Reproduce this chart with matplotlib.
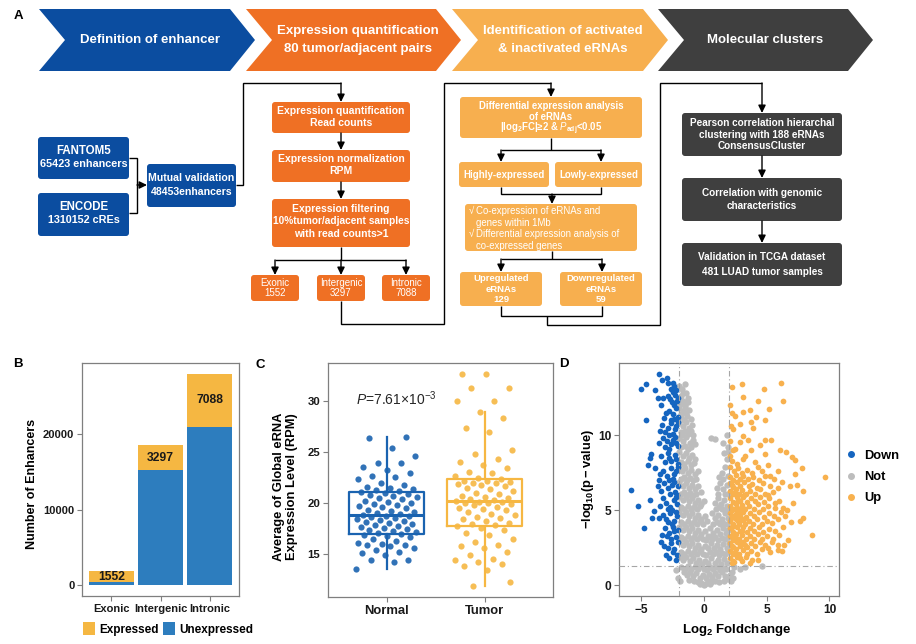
import numpy as np
import matplotlib
matplotlib.use('Agg')
import matplotlib.pyplot as plt
from matplotlib.patches import Polygon, FancyBboxPatch, Patch
from matplotlib.lines import Line2D

plt.rcParams['font.family'] = ['Liberation Sans', 'DejaVu Sans']
plt.rcParams['mathtext.fontset'] = 'custom'
plt.rcParams['mathtext.rm'] = 'Liberation Sans'
plt.rcParams['mathtext.it'] = 'Liberation Sans:italic'
plt.rcParams['mathtext.bf'] = 'Liberation Sans:bold'

# ------------------------------------------------------------------ data
stage_titles = [["Definition of enhancer"],
                ["Expression quantification", "80 tumor/adjacent pairs"],
                ["Identification of activated", "& inactivated eRNAs"],
                ["Molecular clusters"]]

region_cats = ["Exonic", "Intergenic", "Intronic"]
expressed = [1552, 3297, 7088]
unexpressed = [400, 15200, 20900]

groups = ["Normal", "Tumor"]
normal_vals = [13.5, 14.2, 14.4, 14.4, 14.9, 15.1, 15.2, 15.4, 15.6, 15.8,
               15.9, 15.9, 16.0, 16.1, 16.3, 16.5, 16.6, 16.7, 16.8, 16.9,
               17.0, 17.1, 17.2, 17.3, 17.4, 17.5, 17.6, 17.7, 17.8, 17.9,
               18.0, 18.1, 18.2, 18.3, 18.4, 18.5, 18.6, 18.7, 18.75, 18.8,
               18.9, 19.0, 19.1, 19.2, 19.3, 19.5, 19.6, 19.7, 19.8, 19.9,
               20.0, 20.1, 20.2, 20.4, 20.5, 20.6, 20.7, 20.8, 20.9, 21.0,
               21.1, 21.2, 21.3, 21.4, 21.5, 21.6, 21.8, 22.0, 22.3, 22.5,
               22.6, 22.9, 23.2, 23.5, 23.9, 23.9, 24.6, 25.4, 26.4, 26.5]
tumor_vals = [11.8, 12.2, 13.4, 13.8, 14.0, 14.2, 14.4, 14.5, 14.9, 15.2,
              15.6, 15.8, 15.9, 16.2, 16.5, 16.8, 17.0, 17.3, 17.5, 17.7,
              17.8, 17.9, 18.0, 18.2, 18.4, 18.5, 18.6, 18.8, 18.9, 19.1,
              19.3, 19.4, 19.5, 19.6, 19.8, 19.9, 20.0, 20.0, 20.1, 20.1,
              20.2, 20.3, 20.4, 20.5, 20.6, 20.7, 20.9, 21.0, 21.2, 21.4,
              21.5, 21.7, 21.8, 21.9, 22.0, 22.0, 22.1, 22.2, 22.2, 22.3,
              22.4, 22.6, 22.9, 23.0, 23.4, 23.7, 24.0, 24.3, 24.8, 25.2,
              27.0, 27.4, 28.3, 28.9, 30.0, 30.0, 31.3, 31.3, 32.7, 32.7]
p_label = r"$\mathit{P}$=7.61×10$^{-3}$"

down_pts = [
    (-3.59, 14.09), (-2.97, 13.8), (-3.32, 13.7), (-4.6, 13.4), (-5.05, 13.1), (-3.9, 13.0),
    (-2.84, 13.47), (-2.5, 13.5), (-2.35, 13.3), (-2.6, 13.1), (-2.2, 13.0), (-2.45, 12.9),
    (-3.64, 12.5), (-3.24, 12.5), (-2.9, 12.6), (-2.7, 12.4), (-2.3, 12.7), (-2.15, 12.3),
    (-2.55, 12.2), (-3.45, 11.98), (-2.4, 12.0), (-2.05, 12.5),
    (-4.65, 10.98), (-3.19, 11.13), (-2.8, 11.6), (-2.5, 11.4), (-2.25, 11.8), (-2.1, 11.2),
    (-2.65, 11.0), (-3.0, 11.5), (-2.35, 11.1),
    (-3.32, 10.7), (-2.9, 10.5), (-2.6, 10.8), (-2.3, 10.4), (-2.1, 10.9), (-3.1, 10.2),
    (-2.45, 10.1), (-2.75, 10.0), (-2.2, 10.6), (-3.5, 10.3),
    (-3.3, 9.8), (-2.95, 9.6), (-2.6, 9.4), (-2.3, 9.9), (-2.1, 9.3), (-2.8, 9.1),
    (-2.45, 9.7), (-3.1, 9.2), (-2.2, 9.5), (-3.6, 9.5),
    (-4.2, 8.76), (-4.33, 8.47), (-4.44, 8.02), (-3.4, 8.6), (-2.9, 8.8), (-2.6, 8.3),
    (-2.3, 8.7), (-2.1, 8.1), (-3.1, 8.2), (-2.75, 8.5), (-2.2, 8.4),
    (-3.93, 7.8), (-3.59, 6.98), (-3.3, 7.6), (-2.95, 7.3), (-2.65, 7.8), (-2.35, 7.4),
    (-2.1, 7.9), (-2.5, 7.1), (-2.8, 7.0), (-2.2, 7.6), (-3.5, 7.4),
    (-5.79, 6.36), (-3.2, 6.8), (-2.9, 6.5), (-2.55, 6.7), (-2.3, 6.2), (-2.1, 6.6),
    (-2.7, 6.1), (-3.4, 6.3), (-2.4, 6.9), (-2.15, 6.0), (-3.7, 6.6),
    (-4.33, 5.69), (-5.23, 5.24), (-3.3, 5.8), (-3.0, 5.5), (-2.7, 5.2), (-2.4, 5.7),
    (-2.15, 5.4), (-2.55, 5.0), (-2.9, 5.1), (-2.25, 5.9), (-3.5, 5.3),
    (-3.98, 4.91), (-4.12, 4.44), (-3.3, 4.7), (-3.0, 4.4), (-2.7, 4.8), (-2.4, 4.3),
    (-2.15, 4.6), (-2.55, 4.1), (-2.85, 4.2), (-2.25, 4.9), (-3.6, 4.5),
    (-4.78, 3.8), (-3.32, 3.36), (-3.1, 3.8), (-2.8, 3.5), (-2.5, 3.9), (-2.25, 3.2),
    (-2.1, 3.7), (-2.65, 3.1), (-2.95, 3.3), (-2.35, 3.6),
    (-3.05, 2.02), (-2.79, 1.8), (-2.26, 1.69), (-3.2, 2.6), (-2.6, 2.8), (-2.35, 2.4),
    (-2.1, 2.9), (-2.5, 2.2), (-2.9, 2.5), (-2.15, 2.0), (-3.4, 2.9)]

not_pts = [
    (-1.95, 13.3), (-1.75, 13.1), (-1.55, 13.4), (-1.45, 12.8), (-1.85, 12.6), (-1.65, 12.3),
    (-1.3, 12.5), (-1.9, 12.1), (-1.5, 12.0), (-1.25, 12.2), (-1.7, 12.8),
    (-1.95, 11.8), (-1.7, 11.6), (-1.45, 11.5), (-1.2, 11.7), (-1.85, 11.2), (-1.6, 11.0),
    (-1.35, 11.3), (-1.05, 11.1), (-1.8, 11.4), (-1.5, 11.9),
    (-1.95, 10.8), (-1.7, 10.6), (-1.45, 10.9), (-1.2, 10.5), (-0.95, 10.7), (-1.85, 10.2),
    (-1.55, 10.3), (-1.3, 10.1), (-1.05, 10.3), (-0.85, 10.0), (-1.75, 10.0),
    (-1.95, 9.8), (-1.7, 9.6), (-1.4, 9.9), (-1.15, 9.5), (-0.9, 9.7), (-1.85, 9.2),
    (-1.55, 9.3), (-1.25, 9.1), (-1.0, 9.2), (-0.75, 9.4), (0.6, 9.8), (0.9, 9.75),
    (1.8, 10.0), (1.55, 9.5), (1.9, 9.2),
    (-1.95, 8.9), (-1.7, 8.6), (-1.45, 8.8), (-1.2, 8.5), (-0.95, 8.7), (-0.7, 8.4),
    (-1.85, 8.2), (-1.6, 8.1), (-1.3, 8.3), (-1.05, 8.0), (-0.8, 8.15), (1.6, 8.8),
    (1.85, 8.4), (1.95, 8.9),
    (-1.95, 7.9), (-1.75, 7.6), (-1.5, 7.8), (-1.25, 7.5), (-1.0, 7.7), (-0.75, 7.4),
    (-0.5, 7.6), (-1.85, 7.1), (-1.6, 7.2), (-1.35, 7.0), (-1.1, 7.15), (-0.85, 7.0),
    (-0.6, 7.1), (1.4, 7.5), (1.7, 7.9), (1.9, 7.3), (1.55, 7.05), (1.2, 7.2),
    (-1.95, 6.9), (-1.7, 6.6), (-1.45, 6.8), (-1.2, 6.5), (-0.95, 6.7), (-0.7, 6.4),
    (-0.45, 6.6), (-0.25, 6.2), (-1.85, 6.1), (-1.6, 6.2), (-1.35, 6.0), (-1.1, 6.15),
    (-0.85, 6.0), (-0.6, 6.1), (1.0, 6.5), (1.3, 6.8), (1.55, 6.4), (1.8, 6.7),
    (1.95, 6.1), (1.15, 6.1), (1.7, 6.05),
    (-1.95, 5.9), (-1.7, 5.7), (-1.45, 5.85), (-1.2, 5.6), (-0.95, 5.8), (-0.7, 5.5),
    (-0.45, 5.7), (-0.2, 5.4), (0.0, 5.6), (-1.85, 5.2), (-1.6, 5.1), (-1.3, 5.3),
    (-1.05, 5.05), (-0.8, 5.2), (-0.55, 5.1), (-0.3, 5.25), (0.85, 5.5), (1.1, 5.8),
    (1.35, 5.4), (1.6, 5.7), (1.85, 5.3), (0.95, 5.1), (1.45, 5.05), (1.75, 5.0), (1.2, 5.2),
    (-1.95, 4.9), (-1.7, 4.7), (-1.45, 4.85), (-1.2, 4.6), (-0.95, 4.8), (-0.7, 4.5),
    (-0.45, 4.7), (-0.2, 4.4), (0.05, 4.6), (0.25, 4.3), (-1.85, 4.2), (-1.6, 4.1),
    (-1.3, 4.3), (-1.05, 4.05), (-0.8, 4.2), (-0.55, 4.1), (-0.3, 4.25), (-0.05, 4.1),
    (0.65, 4.8), (0.9, 4.5), (1.15, 4.7), (1.4, 4.4), (1.65, 4.8), (1.9, 4.5),
    (0.75, 4.1), (1.0, 4.2), (1.3, 4.05), (1.55, 4.15), (1.8, 4.1),
    (-1.95, 3.9), (-1.7, 3.7), (-1.45, 3.85), (-1.2, 3.6), (-0.95, 3.8), (-0.7, 3.5),
    (-0.45, 3.7), (-0.2, 3.4), (0.05, 3.6), (0.3, 3.3), (0.5, 3.8), (0.75, 3.5),
    (1.0, 3.7), (1.25, 3.4), (1.5, 3.8), (1.75, 3.5), (1.95, 3.7), (-1.85, 3.2),
    (-1.6, 3.1), (-1.3, 3.3), (-1.05, 3.05), (-0.8, 3.2), (-0.55, 3.1), (-0.3, 3.2),
    (-0.05, 3.05), (0.2, 3.0), (0.45, 3.2), (0.65, 3.05), (0.9, 3.2), (1.15, 3.0),
    (1.4, 3.15), (1.65, 3.05), (1.9, 3.2),
    (-1.95, 2.9), (-1.7, 2.7), (-1.45, 2.85), (-1.2, 2.6), (-0.95, 2.8), (-0.7, 2.5),
    (-0.45, 2.7), (-0.2, 2.4), (0.05, 2.6), (0.3, 2.5), (0.55, 2.8), (0.8, 2.45),
    (1.05, 2.7), (1.3, 2.4), (1.55, 2.75), (1.8, 2.5), (1.98, 2.8), (-1.85, 2.2),
    (-1.6, 2.1), (-1.3, 2.3), (-1.05, 2.05), (-0.8, 2.2), (-0.55, 2.1), (-0.3, 2.25),
    (-0.05, 2.1), (0.2, 2.0), (0.45, 2.2), (0.7, 2.05), (0.95, 2.2), (1.2, 2.0),
    (1.45, 2.15), (1.7, 2.05), (1.95, 2.2),
    (-1.9, 1.9), (-1.65, 1.7), (-1.4, 1.85), (-1.15, 1.6), (-0.9, 1.8), (-0.65, 1.5),
    (-0.4, 1.7), (-0.15, 1.4), (0.1, 1.6), (0.35, 1.5), (0.6, 1.8), (0.85, 1.45),
    (1.1, 1.7), (1.35, 1.4), (1.6, 1.75), (1.85, 1.5), (-1.8, 1.2), (-1.5, 1.1),
    (-1.25, 1.3), (-1.0, 1.05), (-0.75, 1.2), (-0.5, 1.1), (-0.25, 1.25), (0.0, 1.1),
    (0.25, 1.0), (0.5, 1.2), (0.75, 1.05), (1.0, 1.2), (1.25, 1.0), (1.5, 1.15),
    (1.75, 1.05), (2.4, 1.2), (2.9, 1.05), (3.3, 1.2), (4.6, 1.25), (2.2, 0.9), (-2.2, 1.0),
    (-1.6, 0.9), (-1.35, 0.7), (-1.1, 0.85), (-0.85, 0.6), (-0.6, 0.8), (-0.35, 0.5),
    (-0.1, 0.7), (0.15, 0.45), (0.4, 0.75), (0.65, 0.55), (0.9, 0.8), (1.15, 0.6),
    (1.4, 0.85), (1.65, 0.6), (1.9, 0.4), (2.15, 0.3), (-1.9, 0.3), (-1.2, 0.35),
    (-0.8, 0.25), (-0.5, 0.2), (-0.2, 0.15), (0.1, 0.1), (0.3, 0.25), (0.6, 0.2),
    (0.85, 0.3), (1.2, 0.2), (-0.35, 0.05), (0.0, 0.02), (0.45, 0.05), (1.6, 0.25),
    (2.1, 0.7), (2.3, 0.5), (-2.1, 0.5)]

up_pts = [
    (3.0, 13.42), (2.2, 13.2), (6.14, 13.5), (4.81, 13.07), (3.13, 12.51), (6.27, 12.3),
    (4.33, 12.24), (5.2, 11.76), (3.67, 11.64), (3.13, 11.51), (2.47, 11.24), (4.12, 11.2),
    (3.75, 10.84), (2.87, 10.73), (4.86, 11.02), (2.33, 10.42), (3.93, 10.47), (3.13, 9.95),
    (3.53, 9.69), (4.86, 9.64), (5.34, 9.69), (2.87, 9.51), (4.46, 9.35), (6.06, 8.98),
    (6.53, 8.87), (6.99, 8.53), (4.86, 8.76), (3.75, 8.98), (2.47, 9.07), (3.27, 8.58),
    (7.25, 8.31), (5.13, 8.02), (4.06, 8.18), (7.78, 7.8), (9.64, 7.2), (7.25, 7.42),
    (5.92, 7.58),
    (6.85, 6.58), (7.39, 6.69), (7.91, 6.24), (5.92, 6.47), (5.13, 6.02), (7.12, 5.47),
    (5.66, 5.47), (6.32, 5.13), (6.45, 4.58), (7.91, 4.47), (7.65, 4.24), (8.58, 3.36),
    (6.72, 3.02), (5.92, 2.69), (5.13, 2.47), (5.92, 2.36), (3.8, 1.69), (2.87, 1.8),
    (2.33, 1.58),
    (2.1, 12.0), (2.15, 10.6), (2.1, 9.6), (2.3, 9.0), (2.05, 8.6), (2.2, 11.5),
    (2.1, 7.9), (2.4, 7.6), (2.7, 7.8), (3.0, 7.5), (3.4, 7.7), (3.8, 7.45), (4.3, 7.9),
    (2.2, 8.3), (2.6, 8.1), (3.1, 8.4), (4.6, 7.6), (5.3, 7.3),
    (2.05, 7.2), (2.3, 7.0), (2.55, 7.35), (2.85, 7.1), (3.15, 7.3), (3.5, 7.05),
    (3.9, 7.2), (4.4, 7.0), (4.9, 7.3), (5.6, 7.1),
    (2.1, 6.8), (2.35, 6.55), (2.6, 6.9), (2.9, 6.6), (3.2, 6.85), (3.55, 6.6),
    (3.85, 6.75), (4.2, 6.5), (4.7, 6.8), (5.3, 6.6), (6.2, 6.9),
    (2.05, 6.3), (2.3, 6.05), (2.55, 6.4), (2.8, 6.1), (3.05, 6.35), (3.35, 6.05),
    (3.7, 6.3), (4.05, 6.1), (4.5, 6.4), (4.9, 6.05), (5.5, 6.2),
    (2.1, 5.8), (2.35, 5.55), (2.6, 5.9), (2.85, 5.6), (3.1, 5.85), (3.4, 5.55),
    (3.75, 5.8), (4.1, 5.6), (4.45, 5.9), (4.8, 5.55), (5.2, 5.8), (6.0, 5.6),
    (2.05, 5.3), (2.3, 5.05), (2.55, 5.4), (2.8, 5.1), (3.05, 5.35), (3.3, 5.05),
    (3.6, 5.3), (3.95, 5.1), (4.3, 5.4), (4.7, 5.05), (5.1, 5.3), (5.7, 5.15), (6.6, 5.0),
    (2.1, 4.8), (2.35, 4.55), (2.6, 4.9), (2.85, 4.6), (3.1, 4.85), (3.35, 4.55),
    (3.65, 4.8), (4.0, 4.6), (4.35, 4.9), (4.75, 4.55), (5.15, 4.8), (5.6, 4.6), (6.1, 4.9),
    (2.05, 4.3), (2.3, 4.05), (2.55, 4.4), (2.8, 4.1), (3.05, 4.35), (3.3, 4.05),
    (3.6, 4.3), (3.9, 4.1), (4.25, 4.4), (4.6, 4.05), (5.0, 4.3), (5.45, 4.15),
    (5.9, 4.4), (6.9, 4.2),
    (2.1, 3.8), (2.35, 3.55), (2.6, 3.9), (2.85, 3.6), (3.1, 3.85), (3.4, 3.55),
    (3.7, 3.8), (4.0, 3.6), (4.35, 3.9), (4.7, 3.55), (5.2, 3.75), (5.7, 3.6), (6.3, 3.9),
    (2.05, 3.3), (2.3, 3.05), (2.55, 3.4), (2.8, 3.1), (3.05, 3.35), (3.35, 3.05),
    (3.65, 3.3), (3.95, 3.1), (4.3, 3.4), (4.65, 3.05), (5.05, 3.3), (5.5, 3.1), (6.0, 3.35),
    (2.1, 2.8), (2.35, 2.55), (2.6, 2.9), (2.85, 2.6), (3.1, 2.85), (3.4, 2.55),
    (3.75, 2.8), (4.1, 2.6), (4.5, 2.9), (4.9, 2.65), (5.4, 2.85), (6.4, 2.7),
    (2.05, 2.3), (2.3, 2.05), (2.55, 2.4), (2.8, 2.1), (3.1, 2.35), (3.4, 2.05),
    (3.75, 2.3), (4.2, 2.1), (4.6, 2.4), (5.3, 2.2), (6.2, 2.3),
    (2.1, 1.8), (2.4, 1.55), (2.65, 1.9), (3.0, 1.6), (3.35, 1.85), (3.7, 1.5),
    (4.3, 1.7), (2.2, 1.45),
    (2.2, 6.7), (2.45, 6.2), (2.75, 5.7), (2.2, 5.0), (2.45, 4.7), (2.7, 4.3),
    (2.2, 3.9), (2.5, 3.3), (2.75, 2.9), (2.2, 2.6), (2.45, 2.2), (3.2, 6.0),
    (3.0, 5.2), (3.2, 4.4), (3.0, 3.6), (3.25, 2.7), (2.95, 4.95), (2.15, 4.5),
    (2.4, 3.0), (2.65, 5.15)]
legend_labels = ["Down", "Not", "Up"]

# ------------------------------------------------------------------ colours
C_BLUE, C_ORANGE, C_LIGHT, C_DARK = '#0b4da0', '#ef7024', '#f7af4f', '#3f3f3f'
C_EXP, C_UNEXP = '#f5b742', '#2d7dbe'
C_NORMAL, C_TUMOR = '#1a63b0', '#f6b742'
C_DOWN, C_NOT, C_UP = '#1565c0', '#bdbdbd', '#f8b14e'
FRAME = '#7f7f7f'

fig = plt.figure(figsize=(9.16, 6.44), dpi=100)

# ------------------------------------------------------------------ panel A (pixel coordinates)
ax0 = fig.add_axes([0, 0, 1, 1])
ax0.set_xlim(0, 916)
ax0.set_ylim(644, 0)
ax0.axis('off')

chev_left = [39, 246, 452, 658]
chev_tip = [255, 461, 668, 873]
chev_cols = [C_BLUE, C_ORANGE, C_LIGHT, C_DARK]
chev_text_x = [150, 358, 563, 765]
for L, T, col, tx, lines in zip(chev_left, chev_tip, chev_cols, chev_text_x, stage_titles):
    poly = [(L, 9), (T - 25, 9), (T, 40), (T - 25, 71), (L, 71), (L + 26, 40)]
    ax0.add_patch(Polygon(poly, closed=True, fc=col, ec='none'))
    if len(lines) == 1:
        ax0.text(tx, 40, lines[0], color='white', fontsize=9.5, fontweight='bold', ha='center', va='center')
    else:
        ax0.text(tx, 31, lines[0], color='white', fontsize=9.5, fontweight='bold', ha='center', va='center')
        ax0.text(tx, 49, lines[1], color='white', fontsize=9.5, fontweight='bold', ha='center', va='center')


def box(x0, y0, x1, y1, col):
    ax0.add_patch(FancyBboxPatch((x0, y0), x1 - x0, y1 - y0,
                                 boxstyle="round,pad=0,rounding_size=3", fc=col, ec='none'))


def txt(x, y, s, size=7.6, weight='bold', ha='center', va='center'):
    ax0.text(x, y, s, color='white', fontsize=size, fontweight=weight, ha=ha, va=va)


def line(xs, ys):
    ax0.plot(xs, ys, color='black', lw=1.0, solid_joinstyle='miter', solid_capstyle='butt')


def arrow(x0, y0, x1, y1):
    ax0.annotate('', xy=(x1, y1), xytext=(x0, y0),
                 arrowprops=dict(arrowstyle='-|>,head_length=0.45,head_width=0.22', color='black',
                                 lw=1.0, shrinkA=0, shrinkB=0))


# blue column
box(38, 137, 129, 179, C_BLUE)
txt(83.5, 151, "FANTOM5", 8.3); txt(83.5, 164, "65423 enhancers", 7.8)
box(38, 193, 129, 236, C_BLUE)
txt(83.5, 207, "ENCODE", 8.3); txt(83.5, 220, "1310152 cREs", 7.8)
box(147, 164, 236, 207, C_BLUE)
txt(191.5, 178, "Mutual validation", 7.6); txt(191.5, 192, "48453enhancers", 7.6)
line([129, 137, 137, 129], [158, 158, 213, 213])
arrow(137, 185, 147, 185)
line([236, 243, 243, 341], [185, 185, 83, 83])
arrow(341, 83, 341, 102)

# orange column
box(272, 102, 410, 133, C_ORANGE)
txt(341, 111, "Expression quantification", 7.5); txt(341, 123, "Read counts", 7.5)
box(272, 150, 410, 182, C_ORANGE)
txt(341, 159, "Expression normalization", 7.5); txt(341, 171, "RPM", 7.5)
box(272, 199, 410, 247, C_ORANGE)
txt(341, 209, "Expression filtering", 7.5); txt(341, 221, "10%tumor/adjacent samples", 7.3)
txt(341, 234, "with read counts>1", 7.5)
arrow(341, 133, 341, 150)
arrow(341, 182, 341, 199)
line([341, 341], [247, 260])
line([275, 406], [260, 260])
for xx in (275, 341, 406):
    arrow(xx, 260, xx, 275)
for (x0, x1), (a, b) in zip([(251, 299), (317, 365), (382, 430)], zip(region_cats, expressed)):
    box(x0, 275, x1, 301, C_ORANGE)
    txt((x0 + x1) / 2, 283, a, 7.0, 'normal'); txt((x0 + x1) / 2, 293, str(b), 7.0, 'normal')
line([341, 341, 444, 444, 551], [301, 324, 324, 83, 83])
arrow(551, 83, 551, 97)

# light orange column
box(460, 97, 642, 138, C_LIGHT)
txt(551, 106, "Differential expression analysis", 6.9)
txt(551, 116.5, "of eRNAs", 6.9)
txt(551, 131.5, r"|log$_\mathbf{2}$FC|≥2 & $\mathit{P}_\mathbf{adj}$<0.05", 6.9, va='baseline')
line([551, 551], [138, 150]); line([501, 601], [150, 150])
arrow(501, 150, 501, 162); arrow(601, 150, 601, 162)
box(459, 162, 549, 187, C_LIGHT); txt(504, 175, "Highly-expressed", 7.0)
box(555, 162, 642, 187, C_LIGHT); txt(598.5, 175, "Lowly-expressed", 7.0)
line([501, 501, 601, 601], [187, 194, 194, 187])
arrow(552, 194, 552, 204)
box(465, 204, 637, 251, C_LIGHT)
for yy, s, tick in [(211, "Co-expression of eRNAs and", True), (222.5, "genes within 1Mb", False),
                    (234, "Differential expression analysis of", True), (246, "co-expressed genes", False)]:
    if tick:
        txt(469, yy, "√", 6.9, 'normal', 'left')
    txt(476, yy, s, 6.9, 'normal', 'left')
line([552, 552], [251, 259]); line([501, 602], [259, 259])
arrow(501, 259, 501, 272); arrow(602, 259, 602, 272)
box(460, 272, 542, 306, C_LIGHT)
txt(501, 278.5, "Upregulated", 6.8); txt(501, 289, "eRNAs", 6.8); txt(501, 299.5, "129", 6.8)
box(560, 272, 642, 306, C_LIGHT)
txt(601, 278.5, "Downregulated", 6.8); txt(601, 289, "eRNAs", 6.8); txt(601, 299.5, "59", 6.8)
line([501, 501, 602, 602], [306, 316, 316, 306])
line([547, 547, 660, 660, 762], [316, 325, 325, 83, 83])
arrow(762, 83, 762, 113)

# dark column
box(682, 113, 842, 156, C_DARK)
txt(762, 123, "Pearson correlation hierarchal", 7.2)
txt(762, 135, "clustering with 188 eRNAs", 7.2)
txt(762, 146, "ConsensusCluster", 7.2)
arrow(762, 156, 762, 178)
box(682, 178, 842, 221, C_DARK)
txt(762, 193, "Correlation with genomic", 7.2); txt(762, 206, "characteristics", 7.2)
arrow(762, 221, 762, 243)
box(682, 243, 842, 286, C_DARK)
txt(762, 257, "Validation in TCGA dataset", 7.2); txt(762, 272, "481 LUAD tumor samples", 7.2)

# panel letters
for lab, px, py in [("A", 18, 16), ("B", 18, 364), ("C", 260, 365), ("D", 564, 364)]:
    fig.text(px / 916, 1 - py / 644, lab, fontsize=9.5, fontweight='bold', ha='center', va='center')


def style(ax, size):
    for s in ax.spines.values():
        s.set_color(FRAME)
        s.set_linewidth(0.9)
    ax.tick_params(color=FRAME, length=3.5, width=0.8, labelcolor='#1a1a1a', labelsize=size, pad=2)
    for lbl in ax.get_xticklabels() + ax.get_yticklabels():
        lbl.set_fontweight('bold')


# ------------------------------------------------------------------ panel B
axB = fig.add_axes([82 / 916, 48 / 644, 157 / 916, 233 / 644])
xb = np.arange(1, len(region_cats) + 1)
axB.bar(xb, unexpressed, width=0.9, color=C_UNEXP, lw=0)
axB.bar(xb, expressed, bottom=unexpressed, width=0.9, color=C_EXP, lw=0)
for xi, u, e in zip(xb, unexpressed, expressed):
    axB.text(xi, u + e / 2, str(e), ha='center', va='center', fontsize=8.7, fontweight='bold', color='#1a1a1a')
axB.set_xlim(0.4, 3.6)
axB.set_ylim(-1400, 29390)
axB.set_xticks(xb)
axB.set_xticklabels(region_cats)
axB.set_yticks([0, 10000, 20000])
style(axB, 8)
for lbl in axB.get_xticklabels():
    lbl.set_fontsize(8)
axB.text(-0.318, 0.48, "Number of Enhancers", transform=axB.transAxes, rotation=90,
         ha='center', va='center', fontsize=9, fontweight='bold')
fig.legend(handles=[Patch(fc=C_EXP, label='Expressed'), Patch(fc=C_UNEXP, label='Unexpressed')],
           loc='center', bbox_to_anchor=(168 / 916, 1 - 629 / 644), ncol=2, frameon=False,
           prop=dict(weight='bold', size=8.5), handlelength=1.0, handleheight=1.3,
           handletextpad=0.35, columnspacing=0.4, borderaxespad=0, borderpad=0)

# ------------------------------------------------------------------ panel C
axC = fig.add_axes([328 / 916, 47 / 644, 225 / 916, 234 / 644])
cols = [C_NORMAL, C_TUMOR]
bp = axC.boxplot([normal_vals, tumor_vals], positions=[1, 2], widths=0.765, showcaps=False,
                 showfliers=False, whis=1.5)
for i, col in enumerate(cols):
    bp['boxes'][i].set(color=col, lw=1.6)
    bp['medians'][i].set(color=col, lw=2.2)
    for w in bp['whiskers'][2 * i:2 * i + 2]:
        w.set(color=col, lw=1.6)
for i, (vals, col) in enumerate(zip([normal_vals, tumor_vals], cols)):
    n = len(vals)
    offs = ((np.arange(n) * 0.6180339887 + 0.31 * i) % 1.0 - 0.5) * 0.62
    axC.scatter(i + 1 + offs, vals, s=20, color=col, alpha=0.9, lw=0, zorder=3)
axC.set_xlim(0.4, 2.7)
axC.set_ylim(10.75, 33.75)
axC.set_xticks([1, 2])
axC.set_xticklabels(groups)
axC.set_yticks([15, 20, 25, 30])
style(axC, 8.2)
for lbl in axC.get_xticklabels():
    lbl.set_fontsize(9.4)
axC.text(1.094, 30.2, p_label, ha='center', va='center', fontsize=10, color='#262626')
axC.text(-0.19, 0.47, "Average of Global eRNA\nExpression Level (RPM)", transform=axC.transAxes,
         rotation=90, ha='center', va='center', fontsize=9.3, fontweight='bold', linespacing=1.1)

# ------------------------------------------------------------------ panel D
axD = fig.add_axes([619 / 916, 48 / 644, 220 / 916, 233 / 644])
for pts, col, sz in [(not_pts, C_NOT, 21), (down_pts, C_DOWN, 17), (up_pts, C_UP, 17)]:
    a = np.array(pts)
    axD.scatter(a[:, 0], a[:, 1], s=sz, color=col, lw=0, zorder=2)
dash = (0, (5, 2.5, 1, 2.5))
axD.axvline(-2, color='#a6a6a6', lw=0.8, ls=dash, zorder=3)
axD.axvline(2, color='#a6a6a6', lw=0.8, ls=dash, zorder=3)
axD.axhline(-np.log10(0.05), color='#a6a6a6', lw=0.8, ls=dash, zorder=3)
axD.set_xlim(-6.77, 10.76)
axD.set_ylim(-0.73, 14.8)
axD.set_xticks([-5, 0, 5, 10])
axD.set_yticks([0, 5, 10])
style(axD, 8.6)
axD.text(-0.14, 0.5, r"$\mathbf{-log_{10}(p-value)}$", transform=axD.transAxes, rotation=90,
         ha='center', va='center', fontsize=9.3)
axD.text(0.536, -0.146, r"$\mathbf{Log_2\ Foldchange}$", transform=axD.transAxes,
         ha='center', va='center', fontsize=9.5)
fig.legend(handles=[Line2D([], [], marker='o', ls='', color=c, markersize=4, label=l)
                    for c, l in zip([C_DOWN, C_NOT, C_UP], legend_labels)],
           loc='center left', bbox_to_anchor=(845 / 916, 1 - 477 / 644), frameon=False,
           prop=dict(weight='bold', size=9.3), handlelength=1.0, handletextpad=0.5,
           labelspacing=0.72, borderaxespad=0, borderpad=0)

fig.savefig('out.png', dpi=100)
